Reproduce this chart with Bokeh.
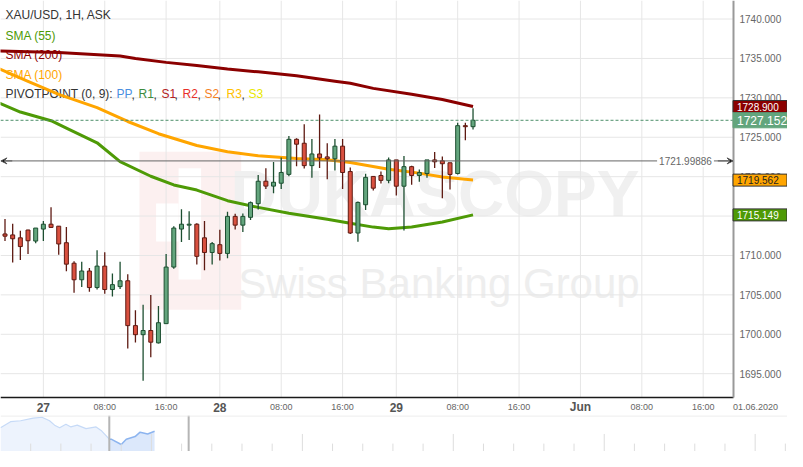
from bokeh.plotting import figure
from bokeh.layouts import column
from bokeh.models import Range1d, Label, Span, Arrow, VeeHead, ColumnDataSource
from bokeh.core.properties import value
from bokeh.embed import file_html
from bokeh.resources import INLINE

# ------------------------------------------------------------------ data
candle_open = [1712.73, 1712.61, 1712.24, 1713.23, 1711.83, 1713.35, 1713.97, 1713.72, 1711.62, 1709.02,
               1706.92, 1708.03, 1705.93, 1708.65, 1705.68, 1706.05, 1706.79, 1701.10, 1699.95, 1700.48,
               1698.91, 1701.35, 1708.53, 1713.35, 1713.85, 1713.97, 1712.24, 1710.38, 1711.37, 1710.26,
               1714.96, 1713.85, 1714.84, 1716.57, 1719.42, 1718.80, 1719.17, 1720.29, 1724.74, 1724.24,
               1721.40, 1722.88, 1722.51, 1722.27, 1723.87, 1720.65, 1712.85, 1716.44, 1720.03, 1720.15,
               1719.53, 1722.13, 1718.79, 1721.27, 1720.15, 1720.40, 1722.13, 1722.01, 1721.76, 1720.40,
               1726.47, 1726.34]
candle_high = [1714.63, 1714.01, 1713.15, 1713.25, 1713.50, 1714.38, 1716.12, 1713.75, 1713.60, 1709.27,
               1709.19, 1708.40, 1710.67, 1710.42, 1707.70, 1709.19, 1707.62, 1703.04, 1703.74, 1704.98,
               1703.58, 1710.18, 1713.72, 1715.87, 1715.62, 1714.10, 1714.38, 1711.70, 1713.27, 1715.54,
               1715.29, 1715.33, 1716.86, 1720.20, 1721.07, 1721.85, 1722.43, 1725.15, 1724.87, 1726.64,
               1724.78, 1727.88, 1724.25, 1724.78, 1724.78, 1721.15, 1716.85, 1720.36, 1720.03, 1720.65,
               1722.42, 1722.13, 1722.63, 1721.39, 1720.90, 1722.13, 1723.12, 1722.55, 1721.76, 1726.84,
               1726.84, 1728.69]
candle_low = [1711.83, 1709.10, 1709.43, 1710.18, 1711.54, 1711.83, 1713.50, 1710.09, 1707.99, 1705.27,
              1706.01, 1705.39, 1705.68, 1705.14, 1704.81, 1705.76, 1698.21, 1698.96, 1694.09, 1697.10,
              1698.83, 1701.35, 1708.32, 1711.70, 1711.95, 1708.86, 1708.11, 1708.86, 1709.35, 1709.64,
              1713.31, 1712.98, 1714.51, 1715.83, 1718.43, 1717.89, 1718.43, 1720.04, 1721.32, 1721.03,
              1719.87, 1721.11, 1719.67, 1720.78, 1718.43, 1712.74, 1711.74, 1715.78, 1718.26, 1719.12,
              1719.16, 1717.60, 1713.18, 1718.96, 1719.37, 1719.87, 1721.10, 1717.27, 1718.38, 1720.28,
              1724.61, 1725.97]
candle_close = [1712.45, 1712.12, 1711.13, 1711.87, 1713.48, 1713.97, 1713.56, 1711.46, 1708.90, 1706.92,
                1708.03, 1705.93, 1708.65, 1705.68, 1706.30, 1706.79, 1701.10, 1699.95, 1700.48, 1699.00,
                1701.47, 1708.53, 1713.48, 1713.97, 1713.97, 1709.89, 1710.38, 1711.50, 1710.26, 1714.96,
                1713.85, 1714.96, 1716.70, 1719.42, 1718.80, 1719.29, 1720.53, 1724.74, 1724.12, 1721.40,
                1722.88, 1722.39, 1722.27, 1723.87, 1720.53, 1712.85, 1716.73, 1719.91, 1718.54, 1719.53,
                1722.13, 1718.79, 1721.27, 1720.15, 1720.52, 1722.13, 1721.89, 1721.64, 1720.28, 1726.47,
                1726.34, 1727.152]

sma55_idx = [-1, 2, 6, 8, 12, 15, 19, 22, 25, 29, 33, 37, 42, 45, 48, 50, 53, 57, 61]
sma55_val = [1729.45, 1728.2, 1727.1, 1726.15, 1724.3, 1721.9, 1720.05, 1718.95, 1718.3, 1716.95,
             1716.1, 1715.35, 1714.6, 1714.1, 1713.6, 1713.4, 1713.6, 1714.25, 1715.149]
sma200_idx = [-1, 7, 15, 17, 21, 25, 29, 33, 38, 43, 45, 48, 53, 57, 61]
sma200_val = [1735.95, 1735.75, 1735.3, 1735.0, 1734.5, 1734.1, 1733.65, 1733.3, 1732.8, 1732.1,
              1731.85, 1731.2, 1730.45, 1729.8, 1728.9]
sma100_idx = [-1, 3, 7, 12, 16, 20, 25, 29, 33, 38, 42, 45, 50, 54, 57, 61]
sma100_val = [1733.8, 1732.1, 1730.45, 1728.75, 1727.0, 1725.45, 1723.95, 1723.15, 1722.65, 1722.3,
              1722.15, 1721.8, 1720.95, 1720.45, 1719.95, 1719.562]

last_price = 1727.152
sma200_last = 1728.900
sma100_last = 1719.562
sma55_last = 1715.149
pivot_level = 1721.99886

price_ticks = [1695, 1700, 1705, 1710, 1715, 1720, 1725, 1730, 1735, 1740]
time_tick_idx = [5, 13, 21, 28, 36, 44, 51, 59, 67, 75, 83, 91]
time_tick_labels = ["27", "08:00", "16:00", "28", "08:00", "16:00", "29", "08:00", "16:00", "Jun", "08:00", "16:00"]
time_tick_is_day = [True, False, False, True, False, False, True, False, False, True, False, False]
date_label = "01.06.2020"

legend_title = "XAU/USD, 1H, ASK"
sma_names = ["SMA (55)", "SMA (200)", "SMA (100)"]
pivot_title = "PIVOTPOINT (0, 9): "
pivot_names = ["PP", "R1", "S1", "R2", "S2", "R3", "S3"]

# navigator (hours from left edge, price-like values)
nav_hours = [0, 8, 16, 26, 33, 39, 43, 47, 52, 56, 61, 68, 76, 80, 86.5, 88, 96, 100, 107, 111, 117, 122.5]
nav_vals = [1727, 1734, 1735, 1738, 1739, 1735, 1730, 1727, 1731, 1728, 1730, 1726, 1728, 1724, 1714,
            1714, 1708, 1714, 1717, 1722, 1720, 1723]
nav_window = [86.5, 149.6]

# ------------------------------------------------------------------ geometry helpers
def ref_x(px):          # reference pixel column -> bar index
    return (px - 4.6) / 7.84

def ref_y(py):          # reference pixel row -> price
    return 1740 - (py - 19) / 8.08

FONT = "Liberation Sans"
W, H = 787, 415
CHART_W, CHART_H = 733, 397
X0, XE = ref_x(0), ref_x(749)
YB, YT = ref_y(407), ref_y(0)
BPX = (XE - X0) / CHART_W        # bars per screen px
UPX = (YT - YB) / CHART_H        # price per screen px
X1 = XE + (W - CHART_W) * BPX
Y0 = YB - (H - CHART_H) * UPX

p = figure(width=W, height=H, x_range=Range1d(X0, X1), y_range=Range1d(Y0, YT),
           x_axis_location=None, y_axis_location=None,
           output_backend="svg", toolbar_location=None, min_border=0)
p.outline_line_color = None
p.background_fill_color = "white"
p.border_fill_color = "white"
p.grid.visible = False

# watermark (decoration, below grid)
p.quad(left=[ref_x(142)], right=[ref_x(246)], top=[ref_y(155)], bottom=[ref_y(317)],
       fill_color="#fcf0f0", line_color=None, level="image")
p.quad(left=[ref_x(159), ref_x(182)], right=[ref_x(182), ref_x(205)],
       top=[ref_y(208), ref_y(172)], bottom=[ref_y(247), ref_y(286)],
       fill_color="white", line_color=None, level="image")
p.text(x=[ref_x(444)], y=[ref_y(198)], text=["DUKASCOPY"], text_font=value(FONT),
       text_font_style="bold", text_font_size="64px", text_color="#f0f0f0",
       text_align="center", text_baseline="middle", level="image")
p.text(x=[ref_x(448)], y=[ref_y(290)], text=["Swiss Banking Group"], text_font=value(FONT),
       text_font_size="42px", text_color="#eeeeee",
       text_align="center", text_baseline="middle", level="image")

# grid lines (from tick lists, limited to the chart area)
p.segment(x0=time_tick_idx, y0=[YB] * len(time_tick_idx), x1=time_tick_idx, y1=[YT] * len(time_tick_idx),
          line_color="#e6e6e6", line_width=1, level="underlay")
p.segment(x0=[X0] * len(price_ticks), y0=price_ticks, x1=[XE] * len(price_ticks), y1=price_ticks,
          line_color="#e6e6e6", line_width=1, level="underlay")

# legend texts (under lines)
leg = [(legend_title, 15, "#333333")] + list(zip(sma_names, [36, 56, 76], ["#4e9a06", "#8b0000", "#ffa500"]))
for txt, py, col in leg:
    p.add_layout(Label(x=5, x_units="screen", y=ref_y(py), text=txt, text_font=FONT,
                       text_font_size="12px", text_color=col, text_baseline="middle", level="underlay"))
p.add_layout(Label(x=5, x_units="screen", y=ref_y(96), text=pivot_title, text_font=FONT,
                   text_font_size="12px", text_color="#333333", text_baseline="middle", level="underlay"))
piv_cols = ["#4a8fe0", "#3d8b3d", "#b22222", "#e8302a", "#f5821f", "#ffc000", "#e8e800"]
piv_x = [116, 138, 161, 182, 204, 226, 248]
for k, (nm, col, px) in enumerate(zip(pivot_names, piv_cols, piv_x)):
    p.add_layout(Label(x=px, x_units="screen", y=ref_y(96), text=nm, text_font=FONT,
                       text_font_size="12px", text_color=col, text_baseline="middle", level="underlay"))
    if k < len(pivot_names) - 1:
        p.add_layout(Label(x=px + (15 if nm[0] != "S" else 13), x_units="screen", y=ref_y(96), text=",",
                           text_font=FONT, text_font_size="12px", text_color="#333333",
                           text_baseline="middle", level="underlay"))

# moving averages
p.line(sma200_idx, sma200_val, line_color="#8b0000", line_width=3, line_join="round")
p.line(sma100_idx, sma100_val, line_color="#ffa500", line_width=3, line_join="round")
p.line(sma55_idx, sma55_val, line_color="#4e9a06", line_width=3, line_join="round")

# candles
idx = list(range(len(candle_open)))
up = [c >= o for o, c in zip(candle_open, candle_close)]
for is_up, fill, edge in [(True, "#63a57d", "#1d4f31"), (False, "#d9503f", "#5e1a12")]:
    sel = [i for i in idx if up[i] == is_up]
    src = ColumnDataSource(dict(
        x=sel,
        high=[candle_high[i] for i in sel],
        low=[candle_low[i] for i in sel],
        top=[max(candle_open[i], candle_close[i]) for i in sel],
        bottom=[min(candle_open[i], candle_close[i]) for i in sel],
    ))
    p.segment(x0="x", y0="low", x1="x", y1="high", source=src, line_color=edge, line_width=1.3)
    p.vbar(x="x", width=0.52, top="top", bottom="bottom", source=src,
           fill_color=fill, line_color=edge, line_width=1)

# horizontal reference lines (chart area only)
p.segment(x0=[X0], y0=[last_price], x1=[XE], y1=[last_price], line_color="#4d8f6a",
          line_dash="3 2", line_width=1)
p.segment(x0=[X0], y0=[pivot_level], x1=[XE], y1=[pivot_level], line_color="#666666", line_width=1)
p.add_layout(Label(x=ref_x(729), y=pivot_level, text=f"{pivot_level:.5f}", text_font=FONT,
                   text_font_size="10px", text_color="#666666", text_align="right",
                   text_baseline="middle", background_fill_color="white", padding=2))
p.add_layout(Arrow(end=VeeHead(size=6, line_color="#555555", line_width=1),
                   x_start=ref_x(733), y_start=pivot_level, x_end=XE - 0.5 * BPX, y_end=pivot_level,
                   line_color="#555555", line_width=1))
p.add_layout(Arrow(end=VeeHead(size=6, line_color="#555555", line_width=1),
                   x_start=ref_x(12), y_start=pivot_level, x_end=X0 + 0.5 * BPX, y_end=pivot_level,
                   line_color="#555555", line_width=1))

# axis lines
p.segment(x0=[X0], y0=[YB], x1=[XE], y1=[YB], line_color="#1a1a1a", line_width=1.5)
p.segment(x0=[XE], y0=[YB], x1=[XE], y1=[YT], line_color="#999999", line_width=2)

# right axis labels
p.text(x=[XE] * len(price_ticks), y=price_ticks, text=[f"{t:.3f}" for t in price_ticks],
       x_offset=6, text_font=value(FONT), text_font_size="10px", text_color="#666666",
       text_align="left", text_baseline="middle")

# price tags on the right axis
tags = [(sma200_last, "#8b0000", "white", "#333333", "10px", 12),
        (sma100_last, "#ffa500", "#222222", "#333333", "10px", 12),
        (sma55_last, "#4e9a06", "white", "#333333", "10px", 12),
        (last_price, "#63a57d", "white", "#63a57d", "12px", 15)]
for val, bg, fg, border, fs, hh in tags:
    p.rect(x=[XE + 26.5 * BPX], y=[val], width=54, height=hh, width_units="screen",
           height_units="screen", fill_color=bg, line_color=border, line_width=1)
    p.text(x=[XE + 3.5 * BPX], y=[val], text=[f"{val:.3f}"], text_font=value(FONT),
           text_font_size=fs, text_color=fg, text_align="left", text_baseline="middle")

# time axis labels
y_lab = YB - 9.5 * UPX
hour_x = [t for t, d in zip(time_tick_idx, time_tick_is_day) if not d]
hour_t = [l for l, d in zip(time_tick_labels, time_tick_is_day) if not d]
day_x = [t for t, d in zip(time_tick_idx, time_tick_is_day) if d]
day_t = [l for l, d in zip(time_tick_labels, time_tick_is_day) if d]
p.text(x=hour_x, y=[y_lab] * len(hour_x), text=hour_t, text_font=value(FONT), text_font_size="9px",
       text_color="#666666", text_align="center", text_baseline="middle")
p.text(x=day_x, y=[y_lab] * len(day_x), text=day_t, text_font=value(FONT), text_font_size="12px",
       text_font_style="bold", text_color="#555555", text_align="center", text_baseline="middle")
p.text(x=[XE + 22 * BPX], y=[y_lab], text=[date_label], text_font=value(FONT), text_font_size="9px",
       text_color="#666666", text_align="center", text_baseline="middle")

# ------------------------------------------------------------------ navigator
nav = figure(width=W, height=36, x_range=Range1d(0, 803 * 24 / 30.8), y_range=Range1d(1700, 1741),
             output_backend="svg", toolbar_location=None, min_border=0,
             x_axis_location=None, y_axis_location=None)
nav.outline_line_color = None
nav.grid.visible = False
split = nav_hours.index(nav_window[0])
nav.varea(x=nav_hours[:split + 1], y1=1700, y2=nav_vals[:split + 1], fill_color="#edf3fd")
nav.line(nav_hours[:split + 1], nav_vals[:split + 1], line_color="#c6daf7", line_width=1.2)
nav.varea(x=nav_hours[split:], y1=1700, y2=nav_vals[split:], fill_color="#dce8fb")
nav.line(nav_hours[split:], nav_vals[split:], line_color="#8cb4ef", line_width=1.5)
days = [24 * k for k in range(1, 27)]
tall = [d for k, d in enumerate(days, start=1) if k % 5 == 0]
short = [d for k, d in enumerate(days, start=1) if k % 5 != 0]
nav.segment(x0=short, y0=[1700] * len(short), x1=short, y1=[1709] * len(short),
            line_color="#dddddd", line_width=1)
nav.segment(x0=tall, y0=[1700] * len(tall), x1=tall, y1=[1720] * len(tall),
            line_color="#dddddd", line_width=1)
nav.segment(x0=nav_window, y0=[1700, 1700], x1=nav_window, y1=[1741, 1741],
            line_color="#b5b5b5", line_width=2)
nav.add_layout(Span(location=1740.5, dimension="width", line_color="#e6e6e6", line_width=1))

layout = column(p, nav)
open("out.html", "w").write(file_html(layout, INLINE))
